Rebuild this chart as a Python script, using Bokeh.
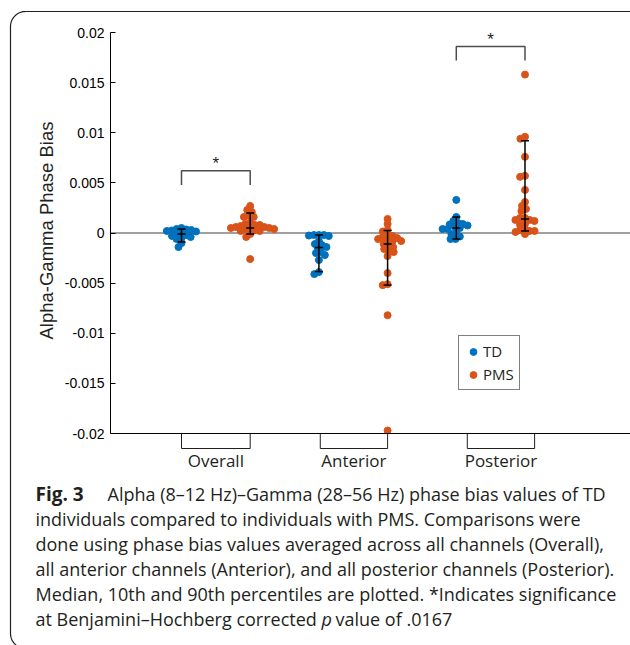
import numpy as np
from bokeh.plotting import figure
from bokeh.models import (Range1d, LinearAxis, FixedTicker, Label, Legend,
                          LegendItem)
from bokeh.core.properties import value
from bokeh.embed import file_html
from bokeh.resources import INLINE

# ---------------- data ----------------
regions = ["Overall", "Anterior", "Posterior"]
groups = ["TD", "PMS"]

td_overall = [0.0005, 0.0004, 0.00035, 0.0003, 0.00025, 0.0002, 0.00015, 0.0,
              -0.0001, -0.0002, -0.0003, -0.0004, -0.0005, -0.0006, -0.001, -0.0014]
td_anterior = [-0.0002, -0.0002, -0.0002, -0.00025, -0.0003, -0.0008, -0.0011, -0.0012,
               -0.0014, -0.0015, -0.0019, -0.002, -0.0022, -0.0027, -0.0039, -0.0041]
td_posterior = [0.0033, 0.0016, 0.0012, 0.001, 0.0009, 0.00085, 0.00075, 0.0006,
                0.0005, 0.0004, 0.0004, 0.0, -0.0001, -0.00035, -0.0006, -0.0006]

pms_overall = [0.0027, 0.0021, 0.0023, 0.0017, 0.0016, 0.0016, 0.0010, 0.0009,
               0.0008, 0.0008, 0.0007, 0.0006, 0.0006, 0.0005, 0.0005, 0.0005,
               0.0004, 0.0004, 0.0003, 0.0002, 0.0002, -0.0001, -0.0004, -0.0026]
pms_anterior = [0.0014, 0.0009, 0.0003, 0.00015, -0.0003, -0.0003, -0.0004, -0.0005,
                -0.0006, -0.0008, -0.0008, -0.0008, -0.0011, -0.0013, -0.0014, -0.0016,
                -0.0018, -0.0019, -0.0023, -0.004, -0.0051, -0.0052, -0.0082, -0.0197]
pms_posterior = [0.0158, 0.0096, 0.0094, 0.0076, 0.0057, 0.0056, 0.0043, 0.0031,
                 0.0027, 0.0024, 0.0022, 0.0015, 0.0015, 0.0013, 0.0013, 0.0012,
                 0.0009, 0.0008, 0.0004, 0.0003, 0.0002, 0.0002, 0.0001, -0.0001]

# median, 10th and 90th percentiles (as plotted)
td_median = [-0.0001, -0.00145, 0.0005]
td_p10 = [-0.0009, -0.00385, -0.0006]
td_p90 = [0.0004, -0.0002, 0.0016]
pms_median = [0.0005, -0.0011, 0.0014]
pms_p10 = [-0.0001, -0.0052, 0.0002]
pms_p90 = [0.0020, 0.00025, 0.0092]

significant = [True, False, True]

y_ticks = [-0.02, -0.015, -0.01, -0.005, 0, 0.005, 0.01, 0.015, 0.02]
y_tick_labels = ["-0.02", "-0.015", "-0.01", "-0.005", "0", "0.005", "0.01", "0.015", "0.02"]

y_axis_title = "Alpha-Gamma Phase Bias"
caption_bold = "Fig. 3"
caption_lines = [
    "Alpha (8\u201312 Hz)\u2013Gamma (28\u201356 Hz) phase bias values of TD",
    "individuals compared to individuals with PMS. Comparisons were",
    "done using phase bias values averaged across all channels (Overall),",
    "all anterior channels (Anterior), and all posterior channels (Posterior).",
    "Median, 10th and 90th percentiles are plotted. *Indicates significance",
    "at Benjamini\u2013Hochberg corrected",
]
caption_italic = "p"
caption_tail = "value of .0167"

# ---------------- layout / style ----------------
TD_COLOR = "#0072BD"
PMS_COLOR = "#D95319"
INK = "#231f20"
W, H = 630, 645

YPX = 401 / 0.04          # pixels per data unit (y)
Y0_PX = 232.5             # page y of zero
XPX = 68.7                # pixels per category step
X1_PX = 181.0             # page x of first category
AXIS_L_PX = 110

def xd(px):
    return 1 + (px - X1_PX) / XPX

def yd(py):
    return (Y0_PX - py) / YPX

td_x = [1, 3, 5]
pms_x = [2, 4, 6]
bracket_x = [(1.0, 2.0), (3.02, 4.0), (5.16, 6.14)]
sig_top = [0.0062, None, 0.0186]
sig_drop = 0.0014
cap_half = 4 / XPX


def swarm(vals, center, d=5.0):
    v = np.asarray(vals, float)
    ypx = v * YPX
    order = np.argsort(-v, kind="stable")
    px_list, py_list = [], []
    offs = np.zeros(len(v))
    for i in order:
        y = ypx[i]
        cands = [0.0]
        for qx, qy in zip(px_list, py_list):
            dy = abs(y - qy)
            if dy < d:
                dx = np.sqrt(d * d - dy * dy)
                cands += [qx + dx, qx - dx]
        best = 0.0
        for c in sorted(cands, key=lambda c: (abs(c), c)):
            if all((c - qx) ** 2 + (y - qy) ** 2 >= d * d - 1e-6
                   for qx, qy in zip(px_list, py_list)):
                best = c
                break
        px_list.append(best)
        py_list.append(y)
        offs[i] = best
    return list(center + offs / XPX)


p = figure(width=W, height=H, output_backend="svg", toolbar_location=None,
           x_range=Range1d(xd(0), xd(W)), y_range=Range1d(yd(H), yd(0)),
           min_border_left=0, min_border_right=0, min_border_top=0, min_border_bottom=0,
           x_axis_location=None, y_axis_location=None)
p.xgrid.visible = False
p.ygrid.visible = False
p.outline_line_color = None
p.border_fill_color = "white"
p.background_fill_color = "white"

# rounded figure border (top-left / bottom-left corners)
R = 15
bx = [10 + R + R * np.cos(a) for a in np.linspace(np.pi / 2, np.pi, 20)]
by = [633 + R * np.sin(a) for a in np.linspace(np.pi / 2, np.pi, 20)]
tx = [10 + R + R * np.cos(a) for a in np.linspace(np.pi, np.pi * 1.5, 20)]
ty = [11 + R + R * np.sin(a) for a in np.linspace(np.pi, np.pi * 1.5, 20)]
frame_x = [660] + bx + tx + [660]
frame_y = [648] + by + ty + [11]
p.line([xd(v) for v in frame_x], [yd(v) for v in frame_y], line_color=INK, line_width=1.2)

# y axis
yaxis = LinearAxis(fixed_location=xd(AXIS_L_PX), bounds=(-0.02, 0.02),
                   ticker=FixedTicker(ticks=y_ticks),
                   major_label_overrides=dict(zip(y_ticks, y_tick_labels)),
                   major_tick_in=5, major_tick_out=0, minor_tick_line_color=None,
                   axis_line_color="black", major_tick_line_color="black",
                   major_label_text_font="Liberation Sans", major_label_text_font_size="14px",
                   major_label_text_color="black", major_label_standoff=6)
p.add_layout(yaxis, "left")

# x axis (category labels)
label_x = [(a + b) / 2 for a, b in bracket_x]
xaxis = LinearAxis(fixed_location=-0.02, bounds=(xd(AXIS_L_PX), xd(W)),
                   ticker=FixedTicker(ticks=label_x),
                   major_label_overrides=dict(zip(label_x, regions)),
                   axis_line_color="black", axis_line_width=1,
                   major_tick_line_color=None, minor_tick_line_color=None,
                   major_label_text_font="Open Sans", major_label_text_font_size="17px",
                   major_label_text_color=INK, major_label_standoff=9)
p.add_layout(xaxis, "below")

# zero line
p.segment(x0=[xd(AXIS_L_PX)], y0=[0], x1=[xd(W)], y1=[0], line_color="#808080", line_width=1.5)

# category brackets under the axis
yb = yd(448)
p.multi_line(xs=[[a, a, b, b] for a, b in bracket_x],
             ys=[[-0.02, yb, yb, -0.02] for _ in bracket_x],
             line_color=INK, line_width=1)

# points
td_vals = [td_overall, td_anterior, td_posterior]
pms_vals = [pms_overall, pms_anterior, pms_posterior]
tdx, tdy, pmx, pmy = [], [], [], []
for k in range(3):
    tdx += swarm(td_vals[k], td_x[k]); tdy += list(td_vals[k])
    pmx += swarm(pms_vals[k], pms_x[k]); pmy += list(pms_vals[k])
r_td = p.scatter(tdx, tdy, size=7, marker="circle", fill_color=TD_COLOR, line_color=TD_COLOR)
r_pms = p.scatter(pmx, pmy, size=7, marker="circle", fill_color=PMS_COLOR, line_color=PMS_COLOR)

# error bars (median, 10th, 90th percentile)
ex = td_x + pms_x
emed = td_median + pms_median
elo = td_p10 + pms_p10
ehi = td_p90 + pms_p90
p.segment(x0=ex, y0=elo, x1=ex, y1=ehi, line_color="black", line_width=1.5)
cx0, cx1, cy = [], [], []
for x, a, b, c in zip(ex, elo, emed, ehi):
    for yv in (a, b, c):
        cx0.append(x - cap_half); cx1.append(x + cap_half); cy.append(yv)
p.segment(x0=cx0, y0=cy, x1=cx1, y1=cy, line_color="black", line_width=1.5)

# significance brackets
sxs, sys, stx, sty = [], [], [], []
for k in range(3):
    if significant[k]:
        t = sig_top[k]
        sxs.append([td_x[k], td_x[k], pms_x[k], pms_x[k]])
        sys.append([t - sig_drop, t, t, t - sig_drop])
        stx.append((td_x[k] + pms_x[k]) / 2)
        sty.append(t + 7 / YPX)
p.multi_line(xs=sxs, ys=sys, line_color="#4d4d4d", line_width=1.5)
p.text(x=stx, y=sty, text=["*"] * len(stx), text_font=value("Liberation Sans"),
       text_font_size="17px", text_align="center", text_baseline="alphabetic",
       text_color=INK)

# legend
legend = Legend(items=[LegendItem(label=groups[0], renderers=[r_td]),
                       LegendItem(label=groups[1], renderers=[r_pms])],
                location=(458, H - 390),
                border_line_color="black", border_line_width=1,
                background_fill_color="white", background_fill_alpha=1,
                padding=5, spacing=3, margin=0,
                label_height=17, glyph_height=17, glyph_width=18, label_standoff=1,
                label_text_font="Open Sans", label_text_font_size="15px",
                label_text_color=INK)
p.add_layout(legend)

# y axis title
p.add_layout(Label(x=xd(46), y=yd(230), text=y_axis_title, angle=np.pi / 2,
                   text_align="center", text_baseline="middle",
                   text_font="Liberation Sans", text_font_size="18.5px", text_color=INK))

# caption
line_y = [493, 518, 543, 568, 593, 618]
cap_style = dict(text_baseline="middle", text_font="Open Sans", text_font_size="18px",
                 text_color=INK)
p.add_layout(Label(x=xd(35), y=yd(line_y[0]), text=caption_bold, text_font_style="bold",
                   **{**cap_style, "text_font_size": "19px"}))
p.add_layout(Label(x=xd(107), y=yd(line_y[0]), text=caption_lines[0], **cap_style))
for i in range(1, 6):
    p.add_layout(Label(x=xd(35), y=yd(line_y[i]), text=caption_lines[i], **cap_style))
p.add_layout(Label(x=xd(321), y=yd(line_y[5]), text=caption_italic,
                   text_font_style="italic", **cap_style))
p.add_layout(Label(x=xd(335), y=yd(line_y[5]), text=caption_tail, **cap_style))

open("out.html", "w").write(file_html(p, INLINE))
